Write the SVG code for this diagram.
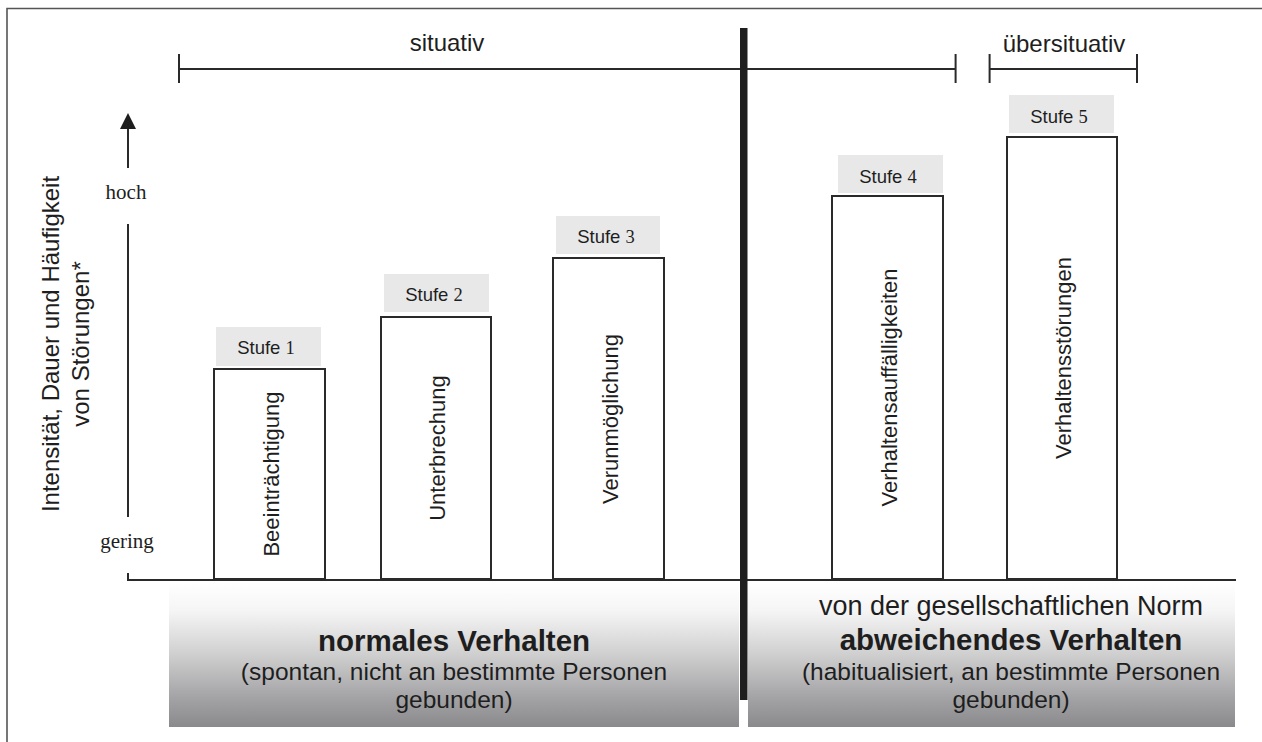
<svg xmlns="http://www.w3.org/2000/svg" width="1262" height="742" viewBox="0 0 1262 742">
<defs>
<linearGradient id="shade" x1="0" y1="0" x2="0" y2="1">
<stop offset="0" stop-color="#ffffff"/>
<stop offset="0.2" stop-color="#f5f5f5"/>
<stop offset="0.5" stop-color="#cfcfd0"/>
<stop offset="0.8" stop-color="#a3a3a5"/>
<stop offset="1" stop-color="#8a8a8c"/>
</linearGradient>
</defs>
<style>
.sans{font-family:"Liberation Sans",Arial,sans-serif;fill:#1e1e1e}
.serif{font-family:"Liberation Serif","Times New Roman",serif;fill:#1e1e1e}
.line{stroke:#2a2a2a;stroke-width:2;fill:none}
.bar{fill:#ffffff;stroke:#2a2a2a;stroke-width:2}
.tag{fill:#e8e8e9}
.stufe{font-size:18.5px;text-anchor:middle}
.vlabel{font-size:22px;text-anchor:middle}
.box{fill:url(#shade)}
</style>
<rect width="1262" height="742" fill="#ffffff"/>
<path d="M7,742 V8.5 H1262" stroke="#555" stroke-width="1.6" fill="none"/>

<g id="bottom-boxes">
<rect class="box" x="169" y="582" width="570" height="145"/>
<rect class="box" x="748" y="582" width="487" height="145"/>
</g>

<g id="connectors">
<path class="line" d="M179,54 V83 M179,69 H955.6 M955.6,54 V83"/>
<path class="line" d="M989.6,54 V83 M989.6,69 H1137 M1137,54 V83"/>
<path class="line" d="M128,168 V128"/>
<polygon points="128,113 120,129 136,129" fill="#1e1e1e"/>
<path class="line" d="M128,224 V517"/>
<path class="line" d="M128,573 V580 H1236"/>
<rect x="740" y="28" width="7.5" height="672" fill="#1e1e1e"/>
</g>

<g id="top-labels">
<text class="sans" x="447" y="51" font-size="24" text-anchor="middle">situativ</text>
<text class="sans" x="1064" y="52" font-size="24" text-anchor="middle">übersituativ</text>
</g>

<g id="axis-labels">
<text class="serif" x="126" y="199" font-size="21" text-anchor="middle">hoch</text>
<text class="serif" x="127" y="548" font-size="21" text-anchor="middle">gering</text>
<text class="sans" font-size="24" text-anchor="middle" transform="translate(59,344) rotate(-90)">Intensität, Dauer und Häufigkeit</text>
<text class="sans" font-size="24" text-anchor="middle" transform="translate(89,344) rotate(-90)">von Störungen*</text>
</g>

<g id="stufe1">
<rect class="tag" x="216" y="327" width="105" height="39"/>
<rect class="bar" x="214" y="369" width="111" height="210"/>
<text class="sans stufe" x="266" y="354">Stufe <tspan class="serif">1</tspan></text>
<text class="sans vlabel" transform="translate(269.5,474) rotate(-90)" y="9">Beeinträchtigung</text>
</g>

<g id="stufe2">
<rect class="tag" x="384" y="274" width="105" height="38"/>
<rect class="bar" x="381" y="317" width="110" height="262"/>
<text class="sans stufe" x="434" y="301">Stufe <tspan class="serif">2</tspan></text>
<text class="sans vlabel" transform="translate(436,448) rotate(-90)" y="9">Unterbrechung</text>
</g>

<g id="stufe3">
<rect class="tag" x="556" y="216" width="104" height="38"/>
<rect class="bar" x="553" y="258" width="111" height="321"/>
<text class="sans stufe" x="606" y="243">Stufe <tspan class="serif">3</tspan></text>
<text class="sans vlabel" transform="translate(608.5,419) rotate(-90)" y="9">Verunmöglichung</text>
</g>

<g id="stufe4">
<rect class="tag" x="838" y="155" width="105" height="38"/>
<rect class="bar" x="832" y="196" width="111" height="383"/>
<text class="sans stufe" x="888" y="183">Stufe <tspan class="serif">4</tspan></text>
<text class="sans vlabel" transform="translate(887.5,387.5) rotate(-90)" y="9">Verhaltensauffälligkeiten</text>
</g>

<g id="stufe5">
<rect class="tag" x="1009" y="95" width="105" height="38"/>
<rect class="bar" x="1007" y="137" width="110" height="442"/>
<text class="sans stufe" x="1059" y="123">Stufe <tspan class="serif">5</tspan></text>
<text class="sans vlabel" transform="translate(1062,358) rotate(-90)" y="9">Verhaltensstörungen</text>
</g>

<g id="normal">
<text class="sans" x="454" y="651" font-size="29.5" font-weight="bold" text-anchor="middle">normales Verhalten</text>
<text class="sans" x="454" y="680" font-size="24.5" text-anchor="middle">(spontan, nicht an bestimmte Personen</text>
<text class="sans" x="454" y="708" font-size="24.5" text-anchor="middle">gebunden)</text>
</g>

<g id="abweichend">
<text class="sans" x="1011" y="615" font-size="27" text-anchor="middle">von der gesellschaftlichen Norm</text>
<text class="sans" x="1011" y="650" font-size="29.5" font-weight="bold" text-anchor="middle">abweichendes Verhalten</text>
<text class="sans" x="1011" y="680" font-size="24.5" text-anchor="middle">(habitualisiert, an bestimmte Personen</text>
<text class="sans" x="1011" y="708" font-size="24.5" text-anchor="middle">gebunden)</text>
</g>
</svg>
